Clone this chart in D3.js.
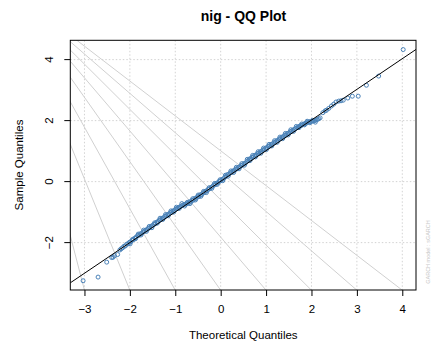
<!DOCTYPE html>
<html><head><meta charset="utf-8">
<script src="https://cdn.jsdelivr.net/npm/d3@7"></script>
<style>body{margin:0;background:#fff}svg{display:block}</style>
</head><body><svg id="c" width="438" height="349"></svg>
<script>
// ---- data ----
const theoretical = [
 -3.03,-2.70,-2.51,-2.40,-2.37,-2.34,-2.27,-2.22,-2.19,
 -2.16,-2.13,-2.10,-2.07,-2.04,-2.01,-1.98,-1.95,-1.92,-1.89,
 -1.86,-1.83,-1.80,-1.77,-1.74,-1.71,-1.68,-1.65,-1.62,-1.59,-1.56,-1.53,-1.50,-1.47,-1.44,-1.41,
 -1.38,-1.35,-1.32,-1.29,-1.26,-1.23,-1.20,-1.17,-1.14,-1.11,-1.08,-1.05,-1.02,-0.99,-0.96,-0.93,-0.90,-0.87,-0.84,-0.81,
 -0.78,-0.75,-0.72,-0.69,-0.66,-0.63,-0.60,-0.57,-0.54,-0.51,-0.48,-0.45,-0.42,-0.39,-0.36,-0.33,-0.30,-0.27,-0.24,-0.21,
 -0.18,-0.15,-0.12,-0.09,-0.06,-0.03,0.00,0.03,0.06,0.09,
 0.12,0.15,0.18,0.21,0.24,0.27,0.30,0.33,0.36,0.39,0.42,0.45,0.48,0.51,0.54,0.57,
 0.60,0.63,0.66,0.69,0.72,0.75,0.78,0.81,0.84,0.87,0.90,0.93,0.96,0.99,1.02,1.05,1.08,1.11,1.14,1.17,
 1.20,1.23,1.26,1.29,1.32,1.35,1.38,1.41,1.44,1.47,1.50,1.53,1.56,1.59,1.62,1.65,1.68,1.71,1.74,1.77,1.80,
 1.83,1.86,1.89,1.92,1.95,1.98,2.01,2.04,2.07,2.10,2.13,2.16,2.19,
 2.25,2.30,2.33,2.38,2.44,2.49,2.54,2.60,2.65,2.70,2.80,2.90,3.03,3.21,3.48,4.02,
 -1.995,-1.935,-1.875,-1.815,-1.755,-1.695,-1.635,-1.575,-1.515,-1.455,-1.395,-1.335,-1.275,-1.215,-1.155,
 -1.095,-1.035,-0.975,-0.915,-0.855,-0.795,-0.735,-0.675,-0.615,-0.555,-0.495,-0.435,-0.375,-0.315,-0.255,
 -0.195,-0.135,-0.075,-0.015,0.045,0.105,0.165,0.225,0.285,0.345,0.405,0.465,0.525,0.585,0.645,
 0.705,0.765,0.825,0.885,0.945,1.005,1.065,1.125,1.185,1.245,1.305,1.365,1.425,1.485,1.545,
 1.605,1.665,1.725,1.785,1.845,1.905,1.965,2.025,2.085
];
const sample = [
 -3.25,-3.13,-2.64,-2.49,-2.48,-2.43,-2.39,-2.24,-2.20,
 -2.17,-2.12,-2.11,-2.05,-2.04,-1.99,-1.97,-1.92,-1.90,-1.85,
 -1.82,-1.77,-1.76,-1.71,-1.70,-1.65,-1.63,-1.59,-1.57,-1.53,-1.51,-1.46,-1.44,-1.40,-1.38,-1.33,
 -1.31,-1.26,-1.25,-1.20,-1.19,-1.14,-1.12,-1.08,-1.06,-1.02,-1.00,-0.96,-0.95,-0.90,-0.88,-0.85,-0.83,-0.80,-0.78,-0.75,
 -0.74,-0.73,-0.71,-0.66,-0.67,-0.61,-0.61,-0.55,-0.55,-0.49,-0.49,-0.43,-0.43,-0.37,-0.36,-0.31,-0.30,-0.25,-0.23,-0.19,
 -0.16,-0.11,-0.10,-0.05,-0.04,0.01,0.03,0.07,0.09,0.14,
 0.18,0.23,0.24,0.29,0.30,0.35,0.36,0.41,0.42,0.47,0.48,0.53,0.54,0.59,0.60,0.65,
 0.69,0.74,0.75,0.80,0.81,0.86,0.87,0.92,0.93,0.98,0.99,1.04,1.05,1.10,1.11,1.16,1.17,1.22,1.23,1.28,
 1.29,1.34,1.35,1.40,1.41,1.46,1.47,1.52,1.53,1.58,1.59,1.64,1.65,1.69,1.71,1.74,1.77,1.79,1.82,1.84,1.86,
 1.88,1.91,1.92,1.95,1.96,1.97,1.98,1.99,2.00,2.02,2.04,2.06,2.09,
 2.26,2.32,2.34,2.40,2.48,2.54,2.61,2.64,2.65,2.67,2.74,2.80,2.80,3.16,3.46,4.33,
 -2.04,-1.89,-1.87,-1.72,-1.75,-1.59,-1.63,-1.47,-1.51,-1.35,-1.36,-1.20,-1.24,-1.08,-1.12,
 -0.96,-1.00,-0.84,-0.88,-0.72,-0.80,-0.68,-0.72,-0.56,-0.60,-0.44,-0.48,-0.32,-0.36,-0.20,
 -0.22,-0.06,-0.09,0.06,0.03,0.21,0.18,0.35,0.30,0.47,0.42,0.59,0.54,0.73,0.69,
 0.86,0.81,0.98,0.93,1.10,1.05,1.22,1.17,1.34,1.29,1.46,1.41,1.58,1.53,1.70,
 1.65,1.81,1.77,1.89,1.86,1.98,1.93,2.01,1.95
];
const xTicks = [-3, -2, -1, 0, 1, 2, 3, 4];
const yTicks = [-2, 0, 2, 4];
const refIntercept = 0.01;
const refSlope = 1.005;
const fanOrigin = [-4.74, 6.43];
const fanEndX = [-3, -2, -1, 0, 1, 2, 3, 4];
const fanEndY = -3.56;
const titleText = "nig - QQ Plot";
const xLabel = "Theoretical Quantiles";
const yLabel = "Sample Quantiles";
const noteText = "GARCH model : sGARCH";

// ---- layout ----
const L = 70.3, R = 416, T = 40.3, B = 290;
const font = "'Liberation Sans', Arial, Helvetica, sans-serif";
const pts = theoretical.map((t, i) => ({x: t, y: sample[i]}));

function pad(ext) { const d = ext[1] - ext[0]; return [ext[0] - 0.04 * d, ext[1] + 0.04 * d]; }
const x = d3.scaleLinear().domain(pad(d3.extent(theoretical))).range([L, R]);
const y = d3.scaleLinear().domain(pad(d3.extent(sample))).range([B, T]);

const svg = d3.select("#c");
svg.append("rect").attr("width", 438).attr("height", 349).attr("fill", "#fff");
svg.append("defs").append("clipPath").attr("id", "clip")
  .append("rect").attr("x", L).attr("y", T).attr("width", R - L).attr("height", B - T);

const plot = svg.append("g").attr("clip-path", "url(#clip)");

// grid
plot.selectAll(".vg").data(xTicks).join("line")
  .attr("x1", d => x(d)).attr("x2", d => x(d)).attr("y1", T).attr("y2", B)
  .attr("stroke", "#d3d3d3").attr("stroke-width", 1).attr("stroke-dasharray", "1.5,2");
plot.selectAll(".hg").data(yTicks).join("line")
  .attr("y1", d => y(d)).attr("y2", d => y(d)).attr("x1", L).attr("x2", R)
  .attr("stroke", "#d3d3d3").attr("stroke-width", 1).attr("stroke-dasharray", "1.5,2");

// fan of grey lines
plot.selectAll(".fan").data(fanEndX).join("line")
  .attr("x1", x(fanOrigin[0])).attr("y1", y(fanOrigin[1]))
  .attr("x2", d => x(d)).attr("y2", y(fanEndY))
  .attr("stroke", "#d0d0d0").attr("stroke-width", 1);

// points
plot.selectAll(".pt").data(pts).join("circle")
  .attr("cx", d => x(d.x)).attr("cy", d => y(d.y)).attr("r", 2)
  .attr("fill", "none").attr("stroke", "#4a82b8").attr("stroke-width", 1);

// reference line
const xd = x.domain();
plot.append("line")
  .attr("x1", x(xd[0])).attr("y1", y(refIntercept + refSlope * xd[0]))
  .attr("x2", x(xd[1])).attr("y2", y(refIntercept + refSlope * xd[1]))
  .attr("stroke", "#000").attr("stroke-width", 1);

// box
svg.append("rect").attr("x", L).attr("y", T).attr("width", R - L).attr("height", B - T)
  .attr("fill", "none").attr("stroke", "#000").attr("stroke-width", 1);

// axes
const xAxis = svg.append("g").attr("transform", `translate(0,${B})`)
  .call(d3.axisBottom(x).tickValues(xTicks).tickSize(6).tickPadding(9).tickFormat(d3.format("d")));
const yAxis = svg.append("g").attr("transform", `translate(${L},0)`)
  .call(d3.axisLeft(y).tickValues(yTicks).tickSize(6).tickFormat(d3.format("d")));
[xAxis, yAxis].forEach(a => {
  a.select(".domain").remove();
  a.selectAll("line").attr("stroke", "#000");
  a.selectAll("text").attr("font-family", font).attr("font-size", 11.5).attr("fill", "#000");
});
yAxis.selectAll("text")
  .attr("transform", function(d){ return `translate(${-21},${y(d)}) rotate(-90)`; })
  .attr("x", 0).attr("y", 0).attr("dy", "0.35em").attr("text-anchor", "middle");
yAxis.selectAll(".tick").attr("transform", null);
yAxis.selectAll(".tick line").attr("transform", d => `translate(0,${y(d)})`);

// titles
svg.append("text").attr("x", 243.5).attr("y", 21).attr("text-anchor", "middle")
  .attr("font-family", font).attr("font-weight", "bold").attr("font-size", 14).text(titleText);
svg.append("text").attr("x", 243.3).attr("y", 339).attr("text-anchor", "middle")
  .attr("font-family", font).attr("font-size", 11.5).text(xLabel);
svg.append("text").attr("transform", "translate(22.5,165) rotate(-90)").attr("text-anchor", "middle")
  .attr("font-family", font).attr("font-size", 11.5).text(yLabel);
svg.append("text").attr("transform", "translate(430,252) rotate(-90)").attr("text-anchor", "middle")
  .attr("font-family", font).attr("font-size", 5.5).attr("fill", "#c8c8c8").text(noteText);
</script></body></html>
